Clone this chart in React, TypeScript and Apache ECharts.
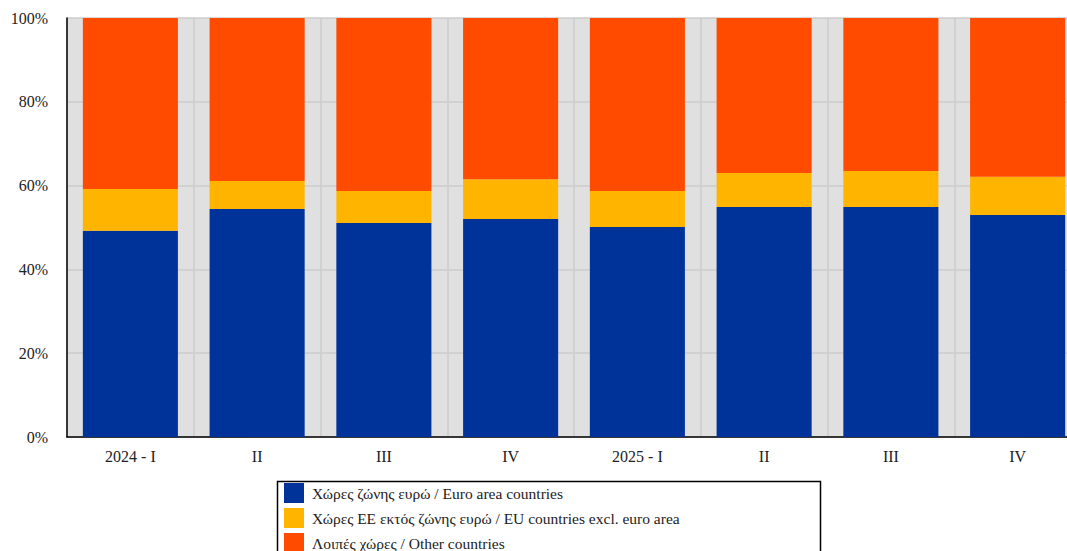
import React, { useEffect, useRef } from "react";
import * as echarts from "echarts";

const categories = ["2024 - I", "II", "III", "IV", "2025 - I", "II", "III", "IV"];
const euroArea = [49.2, 54.4, 51.1, 52.0, 50.1, 54.9, 54.9, 53.0];
const euNonEuro = [10.0, 6.7, 7.6, 9.5, 8.6, 8.1, 8.6, 9.1];
const otherCountries = [40.8, 38.9, 41.3, 38.5, 41.3, 37.0, 36.5, 37.9];
const seriesNames = [
  "Χώρες ζώνης ευρώ / Euro area countries",
  "Χώρες ΕΕ εκτός ζώνης ευρώ / EU countries excl. euro area",
  "Λοιπές χώρες / Other countries",
];
const colors = ["#003399", "#FFB400", "#FF4B00"];

const FONT = "'Liberation Serif', 'DejaVu Serif', serif";

export default function App() {
  const ref = useRef<HTMLDivElement>(null);
  useEffect(() => {
    if (!ref.current) return;
    document.documentElement.style.overflow = "hidden";
    document.body.style.overflow = "hidden";
    const chart = echarts.init(ref.current, undefined, { renderer: "svg" });
    const data = [euroArea, euNonEuro, otherCountries];
    chart.setOption({
      animation: false,
      textStyle: { fontFamily: FONT },
      grid: {
        left: 67,
        top: 18,
        width: 1014,
        height: 419,
        show: true,
        backgroundColor: "#E0E0E0",
        borderWidth: 0,
      },
      legend: {
        orient: "vertical",
        left: 284,
        top: 483,
        height: 200,
        padding: 0,
        itemWidth: 20,
        itemHeight: 20,
        itemGap: 5,
        icon: "rect",
        selectedMode: false,
        textStyle: { fontFamily: FONT, fontSize: 15.5, color: "#222", padding: [0, 0, 0, 3] },
        data: seriesNames,
      },
      graphic: [
        {
          type: "rect",
          left: 275,
          top: 479,
          shape: { width: 543, height: 100 },
          style: { fill: "none", stroke: "#000", lineWidth: 1.5 },
          z: 10,
        },
      ],
      xAxis: {
        type: "category",
        data: categories,
        boundaryGap: true,
        axisLine: { show: true, lineStyle: { color: "#000", width: 1.5 } },
        axisTick: { show: false },
        splitLine: { show: true, lineStyle: { color: "#CCCCCC", width: 1.5 } },
        axisLabel: { fontFamily: FONT, fontSize: 16, color: "#222", margin: 11 },
      },
      yAxis: {
        type: "value",
        min: 0,
        max: 100,
        interval: 20,
        axisLine: { show: true, lineStyle: { color: "#000", width: 1.5 } },
        axisTick: { show: false },
        splitLine: { show: true, lineStyle: { color: "#CCCCCC", width: 1.5 } },
        axisLabel: {
          fontFamily: FONT,
          fontSize: 16,
          color: "#222",
          margin: 19,
          formatter: "{value}%",
        },
      },
      series: seriesNames.map((name, i) => ({
        name,
        type: "bar",
        stack: "total",
        data: data[i],
        barCategoryGap: "25%",
        itemStyle: { color: colors[i] },
        z: 3,
      })),
    });
    return () => chart.dispose();
  }, []);
  return (
    <div
      ref={ref}
      style={{ position: "fixed", left: 0, top: 0, width: 1100, height: 600, background: "#fff" }}
    />
  );
}
